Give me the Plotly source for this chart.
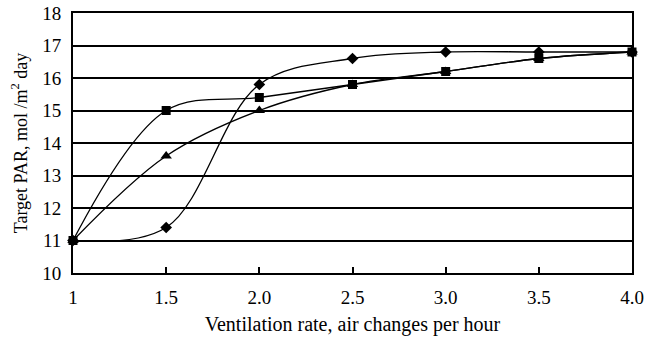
import plotly.graph_objects as go

x = [1, 1.5, 2.0, 2.5, 3.0, 3.5, 4.0]
diamond = [11.0, 11.4, 15.8, 16.6, 16.8, 16.8, 16.8]
square = [11.0, 15.0, 15.4, 15.8, 16.2, 16.6, 16.8]
triangle = [11.0, 13.6, 15.0, 15.8, 16.2, 16.6, 16.8]
xtick_vals = [1, 1.5, 2.0, 2.5, 3.0, 3.5, 4.0]
xtick_text = ["1", "1.5", "2.0", "2.5", "3.0", "3.5", "4.0"]

fig = go.Figure()
for ys, sym, sz in [(triangle, "triangle-up", 10), (diamond, "diamond", 9), (square, "square", 9)]:
    fig.add_trace(go.Scatter(
        x=x, y=ys, mode="lines+markers",
        line=dict(color="black", width=1.3, shape="spline", smoothing=1.0),
        marker=dict(symbol=sym, size=sz, color="black"),
        showlegend=False, cliponaxis=False,
    ))

font = dict(family="Liberation Serif, Times New Roman, serif", size=18, color="black")
fig.update_layout(
    width=646, height=341,
    margin=dict(l=73, r=14, t=13, b=68),
    plot_bgcolor="white", paper_bgcolor="white",
    font=font,
    xaxis=dict(
        range=[1, 4], tickvals=xtick_vals, ticktext=xtick_text,
        ticks="inside", ticklen=6, tickcolor="black", tickwidth=1.5,
        showgrid=False, zeroline=False, automargin=False,
        showline=True, linecolor="black", linewidth=2, mirror=True,
        ticklabelstandoff=6,
        title=dict(text="Ventilation rate, air changes per hour", font=dict(size=20), standoff=10),
        tickfont=dict(size=19),
    ),
    yaxis=dict(
        range=[10, 18], dtick=1, tick0=10,
        showgrid=True, gridcolor="black", gridwidth=1.5,
        zeroline=False, ticks="", automargin=False,
        showline=True, linecolor="black", linewidth=2, mirror=True,
        ticklabelstandoff=6,
        title=dict(text="Target PAR, mol /m<sup>2</sup> day", font=dict(size=18), standoff=10),
        tickfont=dict(size=19),
    ),
)
fig.write_html("out.html")
